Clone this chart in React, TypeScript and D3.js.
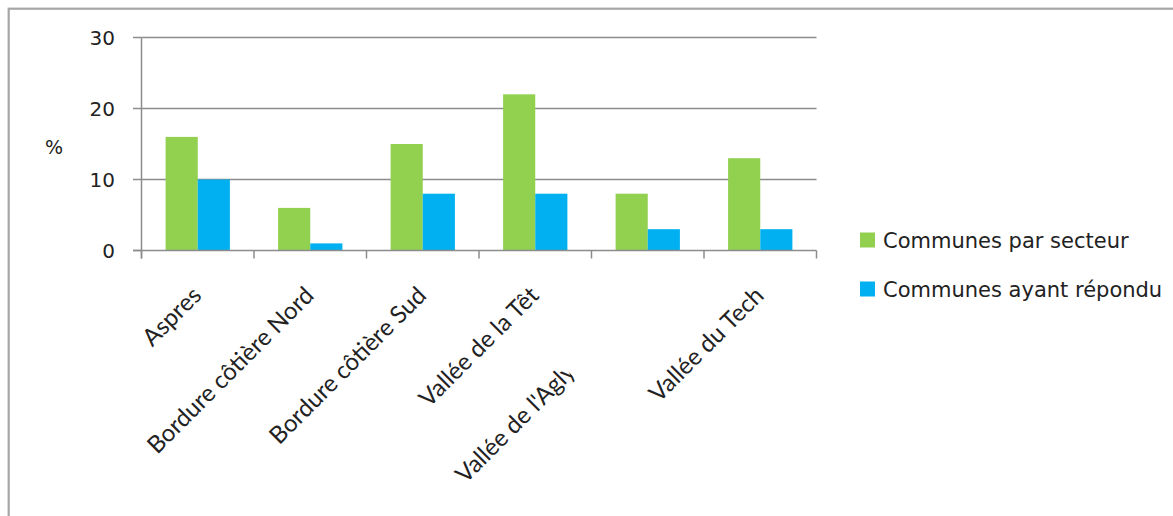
import React from "react";
import * as d3 from "d3";

// Secteurs géographiques et pourcentages par série
const categories = [
  "Aspres",
  "Bordure côtière Nord",
  "Bordure côtière Sud",
  "Vallée de la Têt",
  "Vallée de l'Agly",
  "Vallée du Tech",
];
const seriesNames = ["Communes par secteur", "Communes ayant répondu"];
const communesParSecteur = [16, 6, 15, 22, 8, 13];
const communesAyantRepondu = [10, 1, 8, 8, 3, 3];
const yTicks = [0, 10, 20, 30];
const seriesColors = ["#92D050", "#00B0F0"];

const W = 1173;
const H = 516;
const plot = { left: 141.5, right: 816.5, top: 37.5, bottom: 250.5 };

export default function App() {
  const x0 = d3
    .scaleBand<string>()
    .domain(categories)
    .range([plot.left, plot.right])
    .paddingInner(0)
    .paddingOuter(0);
  const bw = x0.bandwidth() / 3.5;
  const x1 = d3
    .scaleBand<string>()
    .domain(seriesNames)
    .range([(x0.bandwidth() - 2 * bw) / 2, (x0.bandwidth() + 2 * bw) / 2]);
  const y = d3.scaleLinear().domain([0, 30]).range([plot.bottom, plot.top]);

  const values = [communesParSecteur, communesAyantRepondu];
  const boundaries = [...categories.map((c) => x0(c) as number), plot.right];

  const grid = "#8c8c8c";
  const textColor = "#222";
  const tickFont = "'DejaVu Sans', Verdana, sans-serif";
  const catFont = "Lato, 'Open Sans', sans-serif";

  return (
    <svg
      width={W}
      height={H}
      style={{ position: "absolute", left: 0, top: 0, background: "#fff" }}
    >
      <defs>
        <clipPath id="agly-clip">
          <rect x={-400} y={-40} width={395} height={80} />
        </clipPath>
      </defs>
      {/* cadre du graphique */}
      <rect x={8.7} y={8.7} width={1300} height={700} fill="none" stroke="#a6a6a6" strokeWidth={2.2} />

      {/* quadrillage horizontal */}
      {yTicks
        .filter((t) => t > 0)
        .map((t) => (
          <line key={t} x1={plot.left} x2={plot.right} y1={y(t)} y2={y(t)} stroke={grid} strokeWidth={1.5} />
        ))}

      {/* barres */}
      {categories.map((c, i) => (
        <g key={c} transform={`translate(${x0(c)},0)`}>
          {seriesNames.map((s, k) => (
            <rect
              key={s}
              x={x1(s)}
              y={y(values[k][i])}
              width={x1.bandwidth()}
              height={y(0) - y(values[k][i])}
              fill={seriesColors[k]}
            />
          ))}
        </g>
      ))}

      {/* axe vertical */}
      <line x1={plot.left} x2={plot.left} y1={plot.top} y2={plot.bottom + 8} stroke={grid} strokeWidth={1.5} />
      {yTicks.map((t) => (
        <g key={t}>
          <line x1={plot.left - 8.5} x2={plot.left} y1={y(t)} y2={y(t)} stroke={grid} strokeWidth={1.5} />
          <text
            x={115}
            y={y(t)}
            dy="0.36em"
            textAnchor="end"
            fontFamily={tickFont}
            fontSize={20}
            fill={textColor}
          >
            {t}
          </text>
        </g>
      ))}
      <text x={54} y={147} dy="0.36em" textAnchor="middle" fontFamily={tickFont} fontSize={19} fill={textColor}>
        %
      </text>

      {/* axe horizontal */}
      <line x1={plot.left - 8.5} x2={plot.right} y1={y(0)} y2={y(0)} stroke={grid} strokeWidth={1.5} />
      {boundaries.map((bx, i) => (
        <line key={i} x1={bx} x2={bx} y1={y(0)} y2={y(0) + 8} stroke={grid} strokeWidth={1.5} />
      ))}

      {/* étiquettes des secteurs */}
      {categories.map((c, i) => {
        const cx = (x0(c) as number) + x0.bandwidth() / 2;
        const shifted = i === 4;
        const shift = shifted ? 76 : 0;
        return (
          <g key={c} transform={`translate(${cx + 5 - shift},${297 + shift}) rotate(-45)`}>
            <text
              textAnchor="end"
              fontFamily={catFont}
              fontSize={24}
              fill={textColor}
              clipPath={shifted ? "url(#agly-clip)" : undefined}
            >
              {c}
            </text>
          </g>
        );
      })}

      {/* légende */}
      {seriesNames.map((s, k) => (
        <g key={s} transform={`translate(860,${240 + k * 49})`}>
          <rect x={0} y={-7.5} width={15} height={15} fill={seriesColors[k]} />
          <text x={23} y={0} dy="0.36em" fontFamily={tickFont} fontSize={21} fill={textColor}>
            {s}
          </text>
        </g>
      ))}
    </svg>
  );
}
